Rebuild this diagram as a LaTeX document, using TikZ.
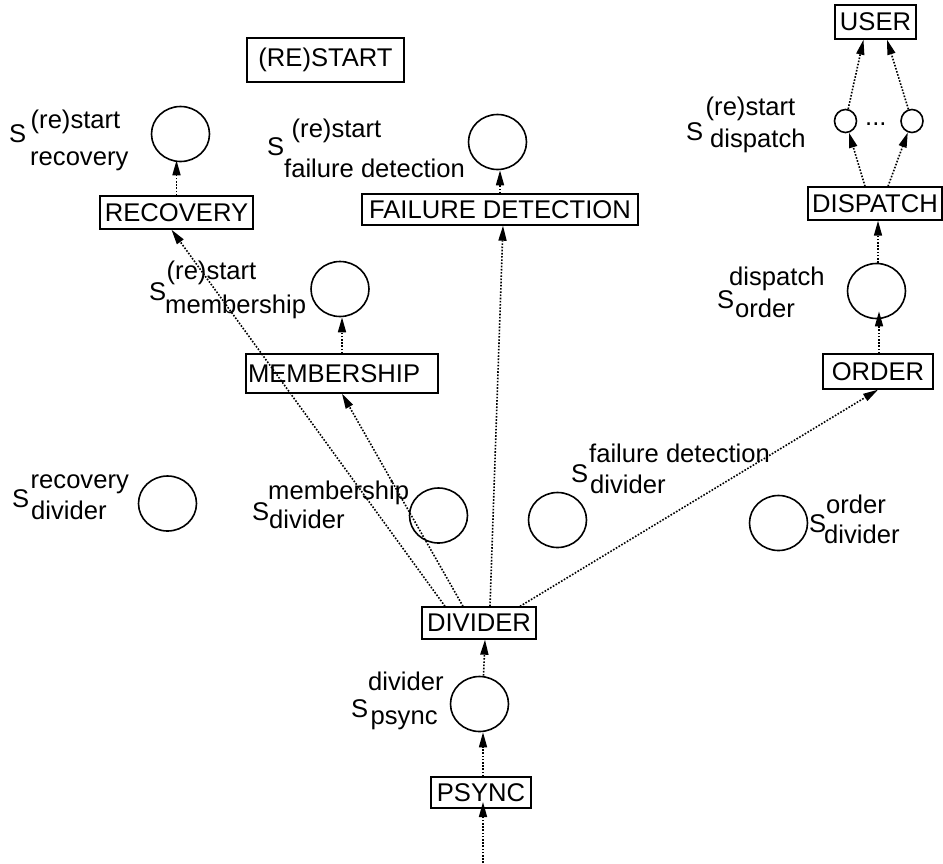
\documentclass[tikz,border=0pt]{standalone}
\usepackage{fontspec}
\setmainfont{Liberation Sans}
\usetikzlibrary{arrows.meta,shapes.geometric}
\newcommand{\labfont}{\fontsize{25.6}{30}\selectfont}
\tikzset{
  box/.style={draw, line width=1.4pt, inner sep=0pt, font=\labfont},
  st/.style={draw, ellipse, line width=1.6pt, minimum width=58pt, minimum height=55pt, inner sep=0pt},
  sst/.style={draw, ellipse, line width=1.6pt, minimum width=22pt, minimum height=23pt, inner sep=0pt},
  lbl/.style={anchor=base west, inner sep=0pt, font=\labfont},
  flow/.style={line width=1.6pt, dash pattern=on 1.6pt off 1.6pt, -{Triangle[length=15pt,width=8pt]}}
}
\begin{document}
\begin{tikzpicture}[x=1pt,y=-1pt]
\useasboundingbox (0,0) rectangle (943,863);
% boxes
\node[box, minimum width=157pt, minimum height=44pt] (rst) at (325.5,60) {(RE)START};
\node[box, minimum width=153pt, minimum height=33pt] (rec) at (176.5,212.5) {RECOVERY};
\node[box, minimum width=276pt, minimum height=31pt] (fd) at (500,209.5) {FAILURE DETECTION};
\node[box, minimum width=81pt, minimum height=34pt] (user) at (875.5,22) {USER};
\node[box, minimum width=134pt, minimum height=33pt] (disp) at (875,203.5) {DISPATCH};
\node[box, text width=188pt, align=left, inner xsep=2pt, minimum height=39pt] (mem) at (342,373.5) {MEMBERSHIP};
\node[box, minimum width=110pt, minimum height=35pt] (ord) at (878,371.5) {ORDER};
\node[box, minimum width=114pt, minimum height=32pt] (div) at (479,623) {DIVIDER};
\node[box, minimum width=100pt, minimum height=31pt] (ps) at (481,792.5) {PSYNC};
% states
\node[st] (crec) at (180.5,134) {};
\node[st] (cfd) at (497.5,142) {};
\node[st] (cmem) at (340,289) {};
\node[sst] (cd1) at (845.5,121) {};
\node[sst] (cd2) at (912,121) {};
\node[lbl] (dots) at (865,125) {...};
\node[st] (cord) at (876.5,291) {};
\node[st] (crd) at (167.5,503.5) {};
\node[st] (cmd) at (438.5,515.5) {};
\node[st] (cfdd) at (557.5,520) {};
\node[st] (cod) at (778.5,523) {};
\node[st] (cps) at (479.5,704) {};
% labels
\node[lbl] (l1s) at (9,142) {S};
\node[lbl] (l1u) at (30.5,128) {(re)start};
\node[lbl] (l1d) at (30,165) {recovery};
\node[lbl] (l2s) at (267,155) {S};
\node[lbl] (l2u) at (291.5,137) {(re)start};
\node[lbl] (l2d) at (284,177) {failure detection};
\node[lbl] (l3s) at (686,140) {S};
\node[lbl] (l3u) at (705.5,115) {(re)start};
\node[lbl] (l3d) at (710,147) {dispatch};
\node[lbl] (l4s) at (149,300) {S};
\node[lbl] (l4u) at (166.5,279) {(re)start};
\node[lbl] (l4d) at (165,313) {membership};
\node[lbl] (l5s) at (12,507) {S};
\node[lbl] (l5u) at (30.5,488) {recovery};
\node[lbl] (l5d) at (31,519) {divider};
\node[lbl] (l6s) at (252,520) {S};
\node[lbl] (l6u) at (268,499) {membership};
\node[lbl] (l6d) at (269,528) {divider};
\node[lbl] (l7s) at (571,482) {S};
\node[lbl] (l7u) at (589,462) {failure detection};
\node[lbl] (l7d) at (590,493) {divider};
\node[lbl] (l8s) at (717,308) {S};
\node[lbl] (l8u) at (729,285) {dispatch};
\node[lbl] (l8d) at (735,317) {order};
\node[lbl] (l9s) at (809,532) {S};
\node[lbl] (l9u) at (826,513) {order};
\node[lbl] (l9d) at (824,543) {divider};
\node[lbl] (l10s) at (351,717) {S};
\node[lbl] (l10u) at (368,690) {divider};
\node[lbl] (l10d) at (370.5,724) {psync};
% connectors
\coordinate (in) at (483,863);
\draw[flow] (in) -- ([xshift=2pt,yshift=-9.5pt]ps.center);
\draw[flow] ([xshift=2pt]ps.north) -- ([xshift=2pt]ps.north |- cps.south);
\draw[flow] ([xshift=4pt]cps.north) -- ([xshift=6pt]div.south);
\draw[flow] ([xshift=-34pt]div.north) -- ([xshift=-5pt]rec.south);
\draw[flow] ([xshift=-16pt]div.north) -- (mem.south);
\draw[flow] ([xshift=11pt]div.north) -- ([xshift=3pt]fd.south);
\draw[flow] ([xshift=41pt]div.north) -- (ord.south);
\draw[flow] (rec.north) -- ([yshift=2pt]rec.north |- crec.south);
\draw[flow] (fd.north) -- (fd.north |- cfd.south);
\draw[flow] (mem.north) -- (mem.north |- cmem.south);
\draw[flow] ([xshift=1pt]ord.north) -- ([xshift=1pt,yshift=8pt]ord.north |- cord.south);
\draw[flow] ([xshift=1.5pt]cord.north) -- ([xshift=3pt]disp.south);
\draw[flow] ([xshift=-10pt]disp.north) -- (cd1);
\draw[flow] ([xshift=13pt]disp.north) -- (cd2);
\draw[flow] (cd1) -- ([xshift=-12pt]user.south);
\draw[flow] (cd2) -- ([xshift=11.5pt]user.south);
\end{tikzpicture}
\end{document}
